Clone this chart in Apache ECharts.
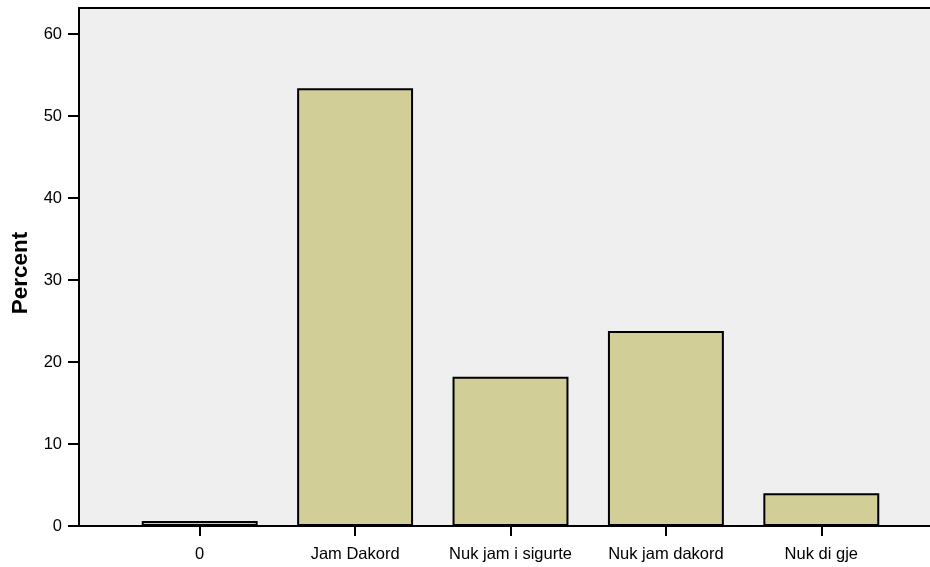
<!DOCTYPE html>
<html>
<head>
<meta charset="utf-8">
<script src="https://cdn.jsdelivr.net/npm/echarts@6/dist/echarts.min.js"></script>
<style>html,body{margin:0;padding:0;background:#fff;}#c{width:930px;height:567px;}</style>
</head>
<body>
<div id="c"></div>
<script>
const categories = ['0', 'Jam Dakord', 'Nuk jam i sigurte', 'Nuk jam dakord', 'Nuk di gje'];
const percentValues = [0.6, 53.4, 18.2, 23.8, 4.0];
const yTicks = [0, 10, 20, 30, 40, 50, 60];
const yMax = 63.2;

const chart = echarts.init(document.getElementById('c'));
const font = 'Arial, "Liberation Sans", sans-serif';
const frameLine = { show: true, onZero: false, lineStyle: { color: '#000', width: 2 } };
chart.setOption({
  animation: false,
  grid: [
    { left: 79, right: 0, top: 8, bottom: 41, show: true, backgroundColor: '#efefef', borderWidth: 0 },
    { left: 122, right: 31, top: 8, bottom: 41 }
  ],
  xAxis: [
    { gridIndex: 0, type: 'category', data: categories, position: 'bottom',
      axisLine: frameLine, axisTick: { show: false }, axisLabel: { show: false } },
    { gridIndex: 1, type: 'category', data: categories,
      axisLine: { show: false },
      axisTick: { show: true, interval: 0, alignWithLabel: true, length: 10, lineStyle: { color: '#000', width: 2 } },
      axisLabel: { interval: 0, color: '#000', fontSize: 16.5, fontFamily: font, margin: 20 }
    },
    { gridIndex: 0, type: 'category', data: categories, position: 'top',
      axisLine: frameLine, axisTick: { show: false }, axisLabel: { show: false } }
  ],
  yAxis: [
    { gridIndex: 0, type: 'value', min: 0, max: yMax,
      name: 'Percent', nameLocation: 'middle', nameGap: 46, nameRotate: 90,
      nameTextStyle: { color: '#000', fontSize: 22.5, fontWeight: 'bold', fontFamily: font, padding: [0, 12, 0, 0] },
      axisLine: { show: true, lineStyle: { color: '#000', width: 2 } },
      axisTick: { show: true, length: 11, lineStyle: { color: '#000', width: 2 }, customValues: yTicks },
      axisLabel: { color: '#000', fontSize: 16.5, fontFamily: font, margin: 17, customValues: yTicks },
      splitLine: { show: false }
    },
    { gridIndex: 1, type: 'value', min: 0, max: yMax, show: false, splitLine: { show: false } }
  ],
  series: [{
    type: 'bar', xAxisIndex: 1, yAxisIndex: 1,
    data: percentValues,
    barWidth: '74.6%',
    itemStyle: { color: '#d2ce98', borderColor: '#000', borderWidth: 2 }
  }]
});
</script>
</body>
</html>
